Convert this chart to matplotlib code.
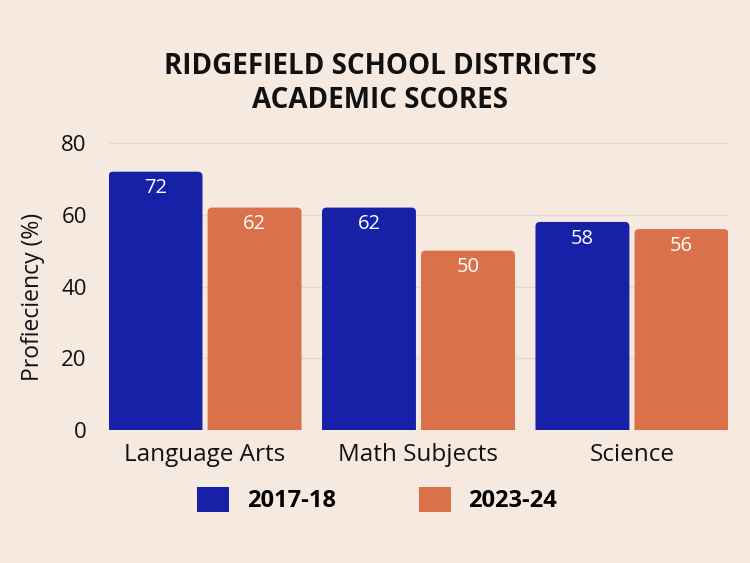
import matplotlib
matplotlib.use("Agg")
import matplotlib.pyplot as plt
import numpy as np
from matplotlib.patches import FancyBboxPatch

categories = ["Language Arts", "Math Subjects", "Science"]
series_names = ["2017-18", "2023-24"]
scores_2017 = [72, 62, 58]
scores_2023 = [62, 50, 56]
y_ticks = [0, 20, 40, 60, 80]

BG = "#F5E9E0"
BLUE = "#1621A8"
ORANGE = "#DA714A"
INK = "#111111"

plt.rcParams["font.family"] = ["Open Sans", "DejaVu Sans"]

W, H = 7.5, 5.63
ax_rect = [0.1453, 0.2362, 0.8254, 0.5098]
fig = plt.figure(figsize=(W, H), dpi=100, facecolor=BG)
ax = fig.add_axes(ax_rect)
ax.set_facecolor(BG)

xlim = (-0.45, 2.45)
ylim = (0, 80)
x = np.arange(len(categories))
width = 0.44
gap = 0.012
bars_a = ax.bar(x - width / 2 - gap, scores_2017, width, color=BLUE, label=series_names[0])
bars_b = ax.bar(x + width / 2 + gap, scores_2023, width, color=ORANGE, label=series_names[1])
ax.set_xlim(*xlim)
ax.set_ylim(*ylim)

# pixels per data unit, to keep the corner rounding circular
px_x = ax_rect[2] * W * 100 / (xlim[1] - xlim[0])
px_y = ax_rect[3] * H * 100 / (ylim[1] - ylim[0])
aspect = px_x / px_y
radius = 4.5 / px_x

# swap square bars for ones with rounded tops
for bars in (bars_a, bars_b):
    for b in bars:
        b.set_visible(False)
        x0, w, h = b.get_x(), b.get_width(), b.get_height()
        rp = FancyBboxPatch((x0, -3), w, h + 3,
                            boxstyle=f"round,pad=0,rounding_size={radius}",
                            mutation_aspect=aspect,
                            facecolor=b.get_facecolor(), edgecolor="none", zorder=3)
        rp.set_clip_path(ax.patch)
        ax.add_patch(rp)
        ax.annotate(f"{int(h)}", (x0 + w / 2, h), xytext=(0, -12), textcoords="offset points",
                    ha="center", va="center", color="white", fontsize=14.5, zorder=4)

ax.set_yticks(y_ticks)
ax.set_xticks(x)
ax.set_xticklabels(categories, fontsize=17.5, color=INK)
ax.tick_params(axis="y", labelsize=16, colors=INK, length=0, pad=16)
ax.tick_params(axis="x", length=0, pad=9)
ax.grid(axis="y", color="#E3D8CF", linewidth=1)
ax.set_axisbelow(True)
for s in ax.spines.values():
    s.set_visible(False)
ax.axhline(0, color="#CFC5BD", linewidth=0.8, zorder=1)

ax.set_ylabel("Profieciency (%)", fontsize=16.5, color=INK)
ax.yaxis.set_label_coords(-0.104, 0.463)

fig.text(0.507, 0.852, "RIDGEFIELD SCHOOL DISTRICT’S\nACADEMIC SCORES", ha="center", va="center",
         fontsize=20, fontweight="bold", linespacing=1.25, color=INK)

leg = fig.legend(handles=[bars_a, bars_b], labels=series_names, loc="center",
                 bbox_to_anchor=(0.503, 0.112), ncol=2, frameon=False,
                 prop={"size": 17, "weight": "bold"}, handlelength=1.35,
                 handleheight=1.3, columnspacing=3.5, handletextpad=0.75)
for hd in leg.legend_handles:
    hd.set_visible(True)

fig.savefig("out.png", dpi=100, facecolor=BG)
